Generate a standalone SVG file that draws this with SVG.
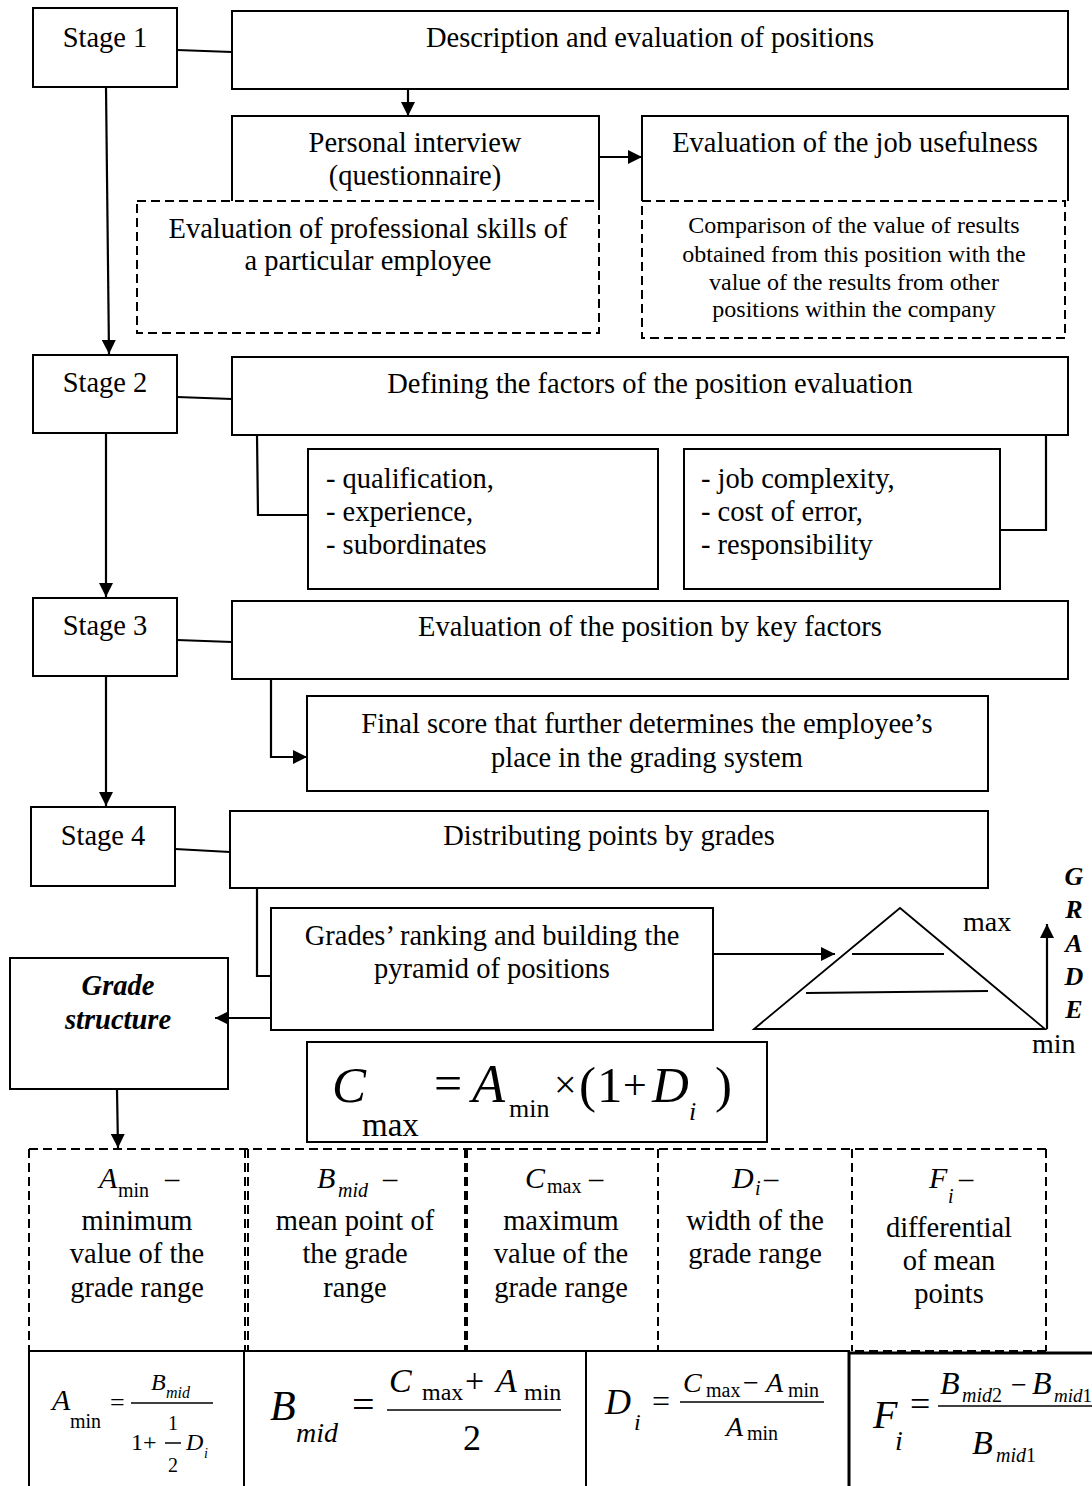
<svg xmlns="http://www.w3.org/2000/svg" width="1092" height="1486" viewBox="0 0 1092 1486" font-family="'Liberation Serif','Times New Roman',serif">
<style>
.b{fill:#fff;stroke:#000;stroke-width:2}
.d{fill:none;stroke:#000;stroke-width:2;stroke-dasharray:9 5}
.s{fill:none;stroke:#000;stroke-width:2}
.l{fill:none;stroke:#000;stroke-width:2.2}
.a{fill:none;stroke:#000;stroke-width:2.2;marker-end:url(#ar)}
text{font-family:"Liberation Serif","Times New Roman",serif;fill:#000}
.t{font-size:28.5px;text-anchor:middle}
.tl{font-size:28.5px}
.sm{font-size:24px;text-anchor:middle}
.bi{font-size:28.5px;font-weight:bold;font-style:italic;text-anchor:middle}
.g{font-size:26px;font-weight:bold;font-style:italic;text-anchor:middle}
.i{font-style:italic}
.fl{stroke:#000;stroke-width:1.5}
</style>
<defs>
<marker id="ar" markerWidth="14" markerHeight="14" refX="14" refY="7" orient="auto" markerUnits="userSpaceOnUse">
<path d="M0,0 L14,7 L0,14 z" fill="#000"/>
</marker>
</defs>

<g id="stage1">
<rect class="b" x="33" y="8" width="144" height="79"/>
<text class="t" x="105" y="47">Stage 1</text>
</g>
<g id="description">
<rect class="b" x="232" y="11" width="836" height="78"/>
<text class="t" x="650" y="47">Description and evaluation of positions</text>
</g>
<g id="professional-skills">
<rect class="d" x="137" y="201" width="462" height="132"/>
<text class="t" x="368" y="238">Evaluation of professional skills of</text>
<text class="t" x="368" y="270">a particular employee</text>
</g>
<g id="personal-interview">
<polyline class="s" points="232,201 232,116 599,116 599,201"/>
<text class="t" x="415" y="152">Personal interview</text>
<text class="t" x="415" y="185">(questionnaire)</text>
</g>
<g id="comparison">
<rect class="d" x="642" y="201" width="423" height="137"/>
<text class="sm" x="854" y="233">Comparison of the value of results</text>
<text class="sm" x="854" y="262">obtained from this position with the</text>
<text class="sm" x="854" y="290">value of the results from other</text>
<text class="sm" x="854" y="317">positions within the company</text>
</g>
<g id="job-usefulness">
<polyline class="s" points="642,201 642,116 1068,116 1068,201"/>
<text class="t" x="855" y="152">Evaluation of the job usefulness</text>
</g>

<g id="stage2">
<rect class="b" x="33" y="355" width="144" height="78"/>
<text class="t" x="105" y="392">Stage 2</text>
</g>
<g id="defining">
<rect class="b" x="232" y="357" width="836" height="78"/>
<text class="t" x="650" y="393">Defining the factors of the position evaluation</text>
</g>
<g id="factors-1">
<rect class="b" x="308" y="449" width="350" height="140"/>
<text class="tl" x="326" y="488">- qualification,</text>
<text class="tl" x="326" y="521">- experience,</text>
<text class="tl" x="326" y="554">- subordinates</text>
</g>
<g id="factors-2">
<rect class="b" x="684" y="449" width="316" height="140"/>
<text class="tl" x="701" y="488">- job complexity,</text>
<text class="tl" x="701" y="521">- cost of error,</text>
<text class="tl" x="701" y="554">- responsibility</text>
</g>

<g id="stage3">
<rect class="b" x="33" y="598" width="144" height="78"/>
<text class="t" x="105" y="635">Stage 3</text>
</g>
<g id="key-factors">
<rect class="b" x="232" y="601" width="836" height="78"/>
<text class="t" x="650" y="636">Evaluation of the position by key factors</text>
</g>
<g id="final-score">
<rect class="b" x="307" y="696" width="681" height="95"/>
<text class="t" x="647" y="733">Final score that further determines the employee’s</text>
<text class="t" x="647" y="767">place in the grading system</text>
</g>

<g id="stage4">
<rect class="b" x="31" y="807" width="144" height="79"/>
<text class="t" x="103" y="845">Stage 4</text>
</g>
<g id="distributing">
<rect class="b" x="230" y="811" width="758" height="77"/>
<text class="t" x="609" y="845">Distributing points by grades</text>
</g>
<g id="ranking">
<rect class="b" x="271" y="908" width="442" height="122"/>
<text class="t" x="492" y="945">Grades’ ranking and building the</text>
<text class="t" x="492" y="978">pyramid of positions</text>
</g>
<g id="grade-structure">
<rect class="b" x="10" y="958" width="218" height="131"/>
<text class="bi" x="118" y="995">Grade</text>
<text class="bi" x="118" y="1029">structure</text>
</g>
<g id="pyramid">
<polygon points="900,908 754,1029 1045,1029" fill="none" stroke="#000" stroke-width="1.8"/>
<line x1="852" y1="954" x2="944" y2="954" stroke="#000" stroke-width="1.8"/>
<line x1="806" y1="993" x2="988" y2="991" stroke="#000" stroke-width="1.8"/>
<text x="963" y="931" style="font-size:28px">max</text>
<text x="1032" y="1053" style="font-size:28px">min</text>
<text class="g" x="1074" y="885">G</text>
<text class="g" x="1074" y="918">R</text>
<text class="g" x="1074" y="952">A</text>
<text class="g" x="1074" y="985">D</text>
<text class="g" x="1074" y="1018">E</text>
</g>

<g id="cmax-formula">
<rect class="b" x="307" y="1042" width="460" height="100"/>
<text style="font-size:51px" class="i" x="332" y="1102">C</text>
<text style="font-size:33px" x="362" y="1136">max</text>
<text style="font-size:50px" x="434" y="1100">=</text>
<text style="font-size:54px" class="i" x="472" y="1102">A</text>
<text style="font-size:26px" x="509" y="1117">min</text>
<text style="font-size:40px" x="554" y="1098">×</text>
<text style="font-size:51px" x="579" y="1102">(</text>
<text style="font-size:51px" x="597" y="1102">1</text>
<text style="font-size:42px" x="623" y="1099">+</text>
<text style="font-size:51px" class="i" x="652" y="1102">D</text>
<text style="font-size:26px" class="i" x="689" y="1120">i</text>
<text style="font-size:51px" x="715" y="1102">)</text>
</g>

<g id="definitions-frame">
<path class="d" d="M29,1149 H1046 M29,1351 H1046 M29,1149 V1351 M245,1149 V1351 M248,1149 V1351 M465,1149 V1351 M467,1149 V1351 M658,1149 V1351 M852,1149 V1351 M1046,1149 V1351"/>
</g>
<g id="def-amin">
<text style="font-size:30px" class="i" x="99" y="1188">A</text>
<text style="font-size:20px" x="118" y="1197">min</text>
<text style="font-size:28.5px" x="165" y="1188">–</text>
<text class="t" x="137" y="1230">minimum</text>
<text class="t" x="137" y="1263">value of the</text>
<text class="t" x="137" y="1297">grade range</text>
</g>
<g id="def-bmid">
<text style="font-size:30px" class="i" x="317" y="1188">B</text>
<text style="font-size:20px" class="i" x="338" y="1197">mid</text>
<text style="font-size:28.5px" x="383" y="1188">–</text>
<text class="t" x="355" y="1230">mean point of</text>
<text class="t" x="355" y="1263">the grade</text>
<text class="t" x="355" y="1297">range</text>
</g>
<g id="def-cmax">
<text style="font-size:30px" class="i" x="525" y="1188">C</text>
<text style="font-size:20px" x="547" y="1193">max</text>
<text style="font-size:28.5px" x="589" y="1188">–</text>
<text class="t" x="561" y="1230">maximum</text>
<text class="t" x="561" y="1263">value of the</text>
<text class="t" x="561" y="1297">grade range</text>
</g>
<g id="def-di">
<text style="font-size:30px" class="i" x="732" y="1188">D</text>
<text style="font-size:20px" class="i" x="755" y="1195">i</text>
<text style="font-size:28.5px" x="764" y="1188">–</text>
<text class="t" x="755" y="1230">width of the</text>
<text class="t" x="755" y="1263">grade range</text>
</g>
<g id="def-fi">
<text style="font-size:30px" class="i" x="929" y="1188">F</text>
<text style="font-size:20px" class="i" x="948" y="1203">i</text>
<text style="font-size:28.5px" x="959" y="1188">–</text>
<text class="t" x="949" y="1237">differential</text>
<text class="t" x="949" y="1270">of mean</text>
<text class="t" x="949" y="1303">points</text>
</g>

<g id="formula-amin">
<rect class="b" x="29" y="1351" width="215" height="140"/>
<text style="font-size:30px" class="i" x="52" y="1410">A</text>
<text style="font-size:20px" x="70" y="1428">min</text>
<text style="font-size:26px" x="110" y="1411">=</text>
<line class="fl" x1="131" y1="1403" x2="213" y2="1403"/>
<text style="font-size:24px" class="i" x="151" y="1390">B</text>
<text style="font-size:16px" class="i" x="166" y="1398">mid</text>
<text style="font-size:24px" x="131" y="1450">1+</text>
<text style="font-size:20px" text-anchor="middle" x="173" y="1430">1</text>
<line class="fl" x1="165" y1="1443" x2="181" y2="1443"/>
<text style="font-size:20px" text-anchor="middle" x="173" y="1472">2</text>
<text style="font-size:24px" class="i" x="186" y="1450">D</text>
<text style="font-size:14px" class="i" x="204" y="1458">i</text>
</g>
<g id="formula-bmid">
<rect class="b" x="244" y="1351" width="342" height="140"/>
<text style="font-size:42px" class="i" x="270" y="1420">B</text>
<text style="font-size:28px" class="i" x="296" y="1442">mid</text>
<text style="font-size:40px" x="352" y="1418">=</text>
<line class="fl" x1="387" y1="1410" x2="561" y2="1410"/>
<text style="font-size:34px" class="i" x="389" y="1392">C</text>
<text style="font-size:24px" x="422" y="1400">max</text>
<text style="font-size:34px" x="465" y="1392">+</text>
<text style="font-size:34px" class="i" x="496" y="1392">A</text>
<text style="font-size:24px" x="524" y="1400">min</text>
<text style="font-size:36px" x="463" y="1450">2</text>
</g>
<g id="formula-di">
<rect class="b" x="586" y="1351" width="263" height="140"/>
<text style="font-size:36px" class="i" x="605" y="1414">D</text>
<text style="font-size:24px" class="i" x="634" y="1430">i</text>
<text style="font-size:32px" x="652" y="1412">=</text>
<line class="fl" x1="680" y1="1402" x2="824" y2="1402"/>
<text style="font-size:28px" class="i" x="683" y="1392">C</text>
<text style="font-size:20px" x="706" y="1397">max</text>
<text style="font-size:28px" x="743" y="1392">−</text>
<text style="font-size:28px" class="i" x="766" y="1392">A</text>
<text style="font-size:20px" x="788" y="1397">min</text>
<text style="font-size:28px" class="i" x="726" y="1436">A</text>
<text style="font-size:20px" x="747" y="1440">min</text>
</g>
<g id="formula-fi">
<rect class="b" x="849" y="1353" width="250" height="140" style="stroke-width:3"/>
<text style="font-size:40px" class="i" x="873" y="1428">F</text>
<text style="font-size:28px" class="i" x="895" y="1450">i</text>
<text style="font-size:36px" x="910" y="1416">=</text>
<line class="fl" x1="938" y1="1406" x2="1092" y2="1406"/>
<text style="font-size:32px" class="i" x="940" y="1394">B</text>
<text style="font-size:20px" x="962" y="1402"><tspan class="i">mid</tspan>2</text>
<text style="font-size:28px" x="1011" y="1394">−</text>
<text style="font-size:32px" class="i" x="1032" y="1394">B</text>
<text style="font-size:19px" x="1054" y="1402"><tspan class="i">mid</tspan>1</text>
<text style="font-size:34px" class="i" x="972" y="1454">B</text>
<text style="font-size:20px" x="996" y="1462"><tspan class="i">mid</tspan>1</text>
</g>

<g id="connectors">
<line class="l" x1="177" y1="50" x2="232" y2="52"/>
<line class="a" x1="106" y1="87" x2="109" y2="354"/>
<line class="a" x1="408" y1="89" x2="408" y2="116"/>
<line class="a" x1="599" y1="157" x2="642" y2="157"/>
<line class="l" x1="177" y1="397" x2="232" y2="399"/>
<polyline class="l" points="257,435 258,515 308,515"/>
<polyline class="l" points="1000,530 1046,530 1046,435"/>
<line class="a" x1="106" y1="434" x2="106" y2="597"/>
<line class="l" x1="177" y1="640" x2="232" y2="642"/>
<polyline class="a" points="271,680 271,757 307,757"/>
<line class="a" x1="106" y1="677" x2="106" y2="806"/>
<line class="l" x1="175" y1="849" x2="230" y2="852"/>
<polyline class="l" points="257,889 257,976 271,976"/>
<line class="a" x1="270" y1="1018" x2="215" y2="1018"/>
<line class="a" x1="713" y1="954" x2="835" y2="954"/>
<line class="a" x1="117" y1="1090" x2="118" y2="1148"/>
<line class="a" x1="1047" y1="1029" x2="1047" y2="924"/>
</g>
</svg>
